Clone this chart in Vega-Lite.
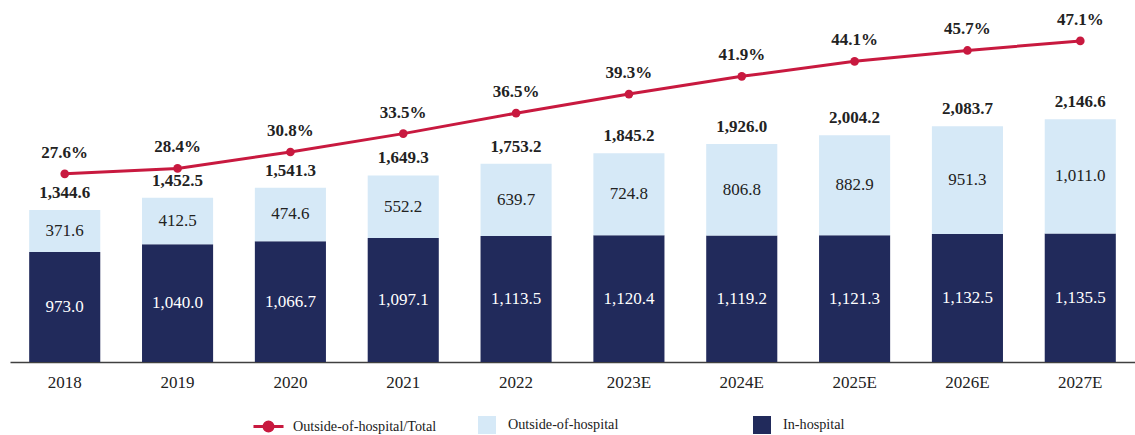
{
  "$schema": "https://vega.github.io/schema/vega-lite/v6.json",
  "width": 1125,
  "height": 362,
  "padding": {"left": 10, "top": 0, "right": 0, "bottom": 0},
  "config": {
    "view": {"stroke": null},
    "font": "Liberation Serif"
  },
  "data": {
    "values": [
      {"year": "2018", "inh": 973.0, "outh": 371.6, "total": 1344.6, "pct": 0.276},
      {"year": "2019", "inh": 1040.0, "outh": 412.5, "total": 1452.5, "pct": 0.284},
      {"year": "2020", "inh": 1066.7, "outh": 474.6, "total": 1541.3, "pct": 0.308},
      {"year": "2021", "inh": 1097.1, "outh": 552.2, "total": 1649.3, "pct": 0.335},
      {"year": "2022", "inh": 1113.5, "outh": 639.7, "total": 1753.2, "pct": 0.365},
      {"year": "2023E", "inh": 1120.4, "outh": 724.8, "total": 1845.2, "pct": 0.393},
      {"year": "2024E", "inh": 1119.2, "outh": 806.8, "total": 1926.0, "pct": 0.419},
      {"year": "2025E", "inh": 1121.3, "outh": 882.9, "total": 2004.2, "pct": 0.441},
      {"year": "2026E", "inh": 1132.5, "outh": 951.3, "total": 2083.7, "pct": 0.457},
      {"year": "2027E", "inh": 1135.5, "outh": 1011.0, "total": 2146.6, "pct": 0.471}
    ]
  },
  "encoding": {
    "x": {
      "field": "year", "type": "ordinal", "sort": null,
      "scale": {"paddingInner": 0.37, "paddingOuter": 0.17},
      "axis": {
        "title": null, "labelAngle": 0, "ticks": false, "grid": false,
        "domainColor": "#404040", "domainWidth": 1.5,
        "labelFont": "Liberation Serif", "labelFontSize": 17, "labelColor": "#222222",
        "labelPadding": 12
      }
    }
  },
  "layer": [
    {
      "mark": {"type": "line", "strokeWidth": 3, "point": {"filled": true, "size": 75, "color": "#C8193F"}},
      "encoding": {
        "y": {"field": "pct", "type": "quantitative", "scale": {"domain": [0, 0.531]}, "axis": null},
        "color": {
          "datum": "Outside-of-hospital/Total", "type": "nominal",
          "scale": {"range": ["#C8193F"]},
          "legend": {
            "title": null, "orient": "none", "legendX": 248, "legendY": 416,
            "symbolType": "M-1.67,0L1.67,0M0.5,0A0.5,0.5,0,1,1,-0.5,0A0.5,0.5,0,1,1,0.5,0Z",
            "symbolSize": 324, "symbolStrokeWidth": 3,
            "labelFont": "Liberation Serif", "labelFontSize": 14.2, "labelColor": "#222222",
            "labelOffset": 14,
            "encode": {"symbols": {"update": {"fill": {"value": "#C8193F"}, "stroke": {"value": "#C8193F"}}}}
          }
        }
      }
    },
    {
      "mark": {"type": "text", "color": "#222222", "fontSize": 17, "fontWeight": "bold", "baseline": "middle", "dy": -21},
      "encoding": {
        "y": {"field": "pct", "type": "quantitative", "scale": {"domain": [0, 0.531]}, "axis": null},
        "text": {"field": "pct", "type": "quantitative", "format": ".1%"}
      }
    },
    {
      "mark": {"type": "bar"},
      "encoding": {
        "y": {"field": "inh", "type": "quantitative", "scale": {"domain": [0, 3200]}, "axis": null},
        "fill": {
          "datum": "In-hospital", "type": "nominal",
          "scale": {"domain": ["Outside-of-hospital", "In-hospital"], "range": ["#D6E9F7", "#212A5B"]},
          "legend": {
            "title": null, "orient": "none", "legendX": 468, "legendY": 416, "direction": "horizontal",
            "symbolType": "square", "symbolSize": 324, "symbolStrokeWidth": 0,
            "labelFont": "Liberation Serif", "labelFontSize": 14.2, "labelColor": "#222222",
            "labelOffset": 12, "columnPadding": 134
          }
        }
      }
    },
    {
      "mark": {"type": "bar"},
      "encoding": {
        "y": {"field": "inh", "type": "quantitative", "scale": {"domain": [0, 3200]}, "axis": null},
        "y2": {"field": "total"},
        "fill": {"datum": "Outside-of-hospital", "type": "nominal"}
      }
    },
    {
      "transform": [{"fold": ["inh", "total"], "as": ["part", "v"]}],
      "mark": {"type": "text", "fontSize": 17, "baseline": "middle"},
      "encoding": {
        "y": {"field": "v", "type": "quantitative", "stack": "zero", "scale": {"domain": [0, 6400]}, "axis": null},
        "detail": {"field": "part", "type": "nominal"},
        "order": {"field": "part", "type": "nominal", "sort": "ascending"},
        "text": {
          "condition": {"test": "datum.part === 'inh'", "field": "inh", "type": "quantitative", "format": ",.1f"},
          "field": "outh", "type": "quantitative", "format": ",.1f"
        },
        "color": {
          "condition": {"test": "datum.part === 'inh'", "value": "#FFFFFF"},
          "value": "#222222"
        }
      }
    },
    {
      "mark": {"type": "text", "color": "#222222", "fontSize": 17, "fontWeight": "bold", "baseline": "middle", "dy": -17},
      "encoding": {
        "y": {"field": "total", "type": "quantitative", "scale": {"domain": [0, 3200]}, "axis": null},
        "text": {"field": "total", "type": "quantitative", "format": ",.1f"}
      }
    }
  ],
  "resolve": {"scale": {"y": "independent"}}
}
